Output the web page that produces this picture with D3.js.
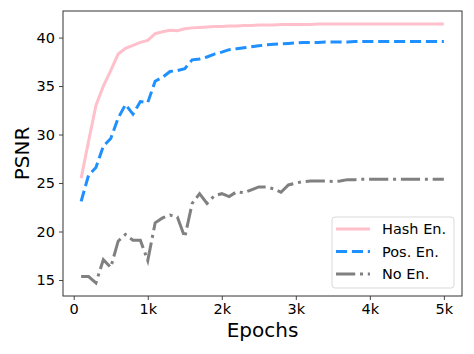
<!DOCTYPE html>
<html>
<head>
<meta charset="utf-8">
<script src="https://cdn.jsdelivr.net/npm/d3@7"></script>
<style>
  body { margin: 0; background: #fff; }
  text { font-family: "DejaVu Sans", sans-serif; fill: #000; }
</style>
</head>
<body>
<div id="chart"></div>
<script>
// epochs sampled every 100
var epochs = d3.range(100, 5001, 100);

var hashEn = [25.5, 29.3, 33.0, 35.0, 36.6, 38.3, 38.9, 39.2, 39.5, 39.7,
  40.4, 40.6, 40.75, 40.7, 40.9, 41.0, 41.05, 41.1, 41.15, 41.15,
  41.2, 41.2, 41.25, 41.25, 41.3, 41.3, 41.3, 41.35, 41.35, 41.35,
  41.35, 41.35, 41.4, 41.4, 41.4, 41.4, 41.4, 41.4, 41.4, 41.4,
  41.4, 41.4, 41.4, 41.4, 41.4, 41.4, 41.4, 41.4, 41.4, 41.4];

var posEn = [23.1, 25.8, 26.6, 28.8, 29.6, 31.7, 33.1, 32.1, 33.4, 33.3,
  35.5, 35.9, 36.5, 36.6, 36.8, 37.7, 37.8, 38.0, 38.3, 38.5,
  38.75, 38.85, 38.95, 39.05, 39.15, 39.25, 39.3, 39.35, 39.4, 39.45,
  39.5, 39.5, 39.5, 39.55, 39.55, 39.55, 39.55, 39.6, 39.6, 39.6,
  39.6, 39.6, 39.6, 39.6, 39.6, 39.6, 39.6, 39.6, 39.6, 39.6];

var noEn = [15.35, 15.35, 14.7, 17.1, 16.3, 19.0, 19.7, 19.1, 19.1, 17.0,
  20.9, 21.4, 21.7, 21.5, 19.4, 22.9, 23.9, 22.9, 23.7, 23.9,
  23.6, 24.1, 24.0, 24.3, 24.6, 24.6, 24.4, 24.05, 24.8, 25.0,
  25.15, 25.2, 25.2, 25.2, 25.15, 25.2, 25.35, 25.35, 25.4, 25.4,
  25.4, 25.4, 25.4, 25.4, 25.4, 25.4, 25.4, 25.4, 25.4, 25.4];

var seriesNames = ["Hash En.", "Pos. En.", "No En."];
var xTicks = [0, 1000, 2000, 3000, 4000, 5000];
var xTickLabels = ["0", "1k", "2k", "3k", "4k", "5k"];
var yTicks = [15, 20, 25, 30, 35, 40];

var width = 474,
	height = 354,
	margin = {top: 11, right: 12, bottom: 58, left: 63};

var svg = d3.select("#chart").append("svg")
	.attr("width", width)
	.attr("height", height);

var x = d3.scaleLinear()
	.domain([-145, 5245])
	.range([margin.left, width - margin.right]);

var y = d3.scaleLinear()
	.domain([13.35, 42.74])
	.range([height - margin.bottom, margin.top]);

var styles = [
	{color: "pink", dash: null},
	{color: "dodgerblue", dash: "11.1,4.8"},
	{color: "gray", dash: "19.2,4.8,3,4.8"}
];
var allSeries = [hashEn, posEn, noEn];

// axes
var xAxis = svg.append("g")
	.attr("transform", "translate(0," + (height - margin.bottom) + ")")
	.call(d3.axisBottom(x).tickValues(xTicks)
		.tickFormat(function(d, i) { return xTickLabels[i]; })
		.tickSize(4).tickPadding(4));

var yAxis = svg.append("g")
	.attr("transform", "translate(" + margin.left + ",0)")
	.call(d3.axisLeft(y).tickValues(yTicks).tickSize(4).tickPadding(4));

[xAxis, yAxis].forEach(function(g) {
	g.select(".domain").remove();
	g.selectAll(".tick line").attr("stroke", "#333").attr("stroke-width", 0.9);
	g.selectAll(".tick text")
		.attr("font-size", 14.5)
		.attr("font-family", "DejaVu Sans")
		.attr("fill", "#000");
});

// frame
svg.append("rect")
	.attr("x", margin.left)
	.attr("y", margin.top)
	.attr("width", width - margin.right - margin.left)
	.attr("height", height - margin.bottom - margin.top)
	.attr("fill", "none")
	.attr("stroke", "#333")
	.attr("stroke-width", 1);

// lines
var line = d3.line()
	.x(function(d, i) { return x(epochs[i]); })
	.y(function(d) { return y(d); });

allSeries.forEach(function(s, i) {
	svg.append("path")
		.datum(s)
		.attr("fill", "none")
		.attr("stroke", styles[i].color)
		.attr("stroke-width", 3)
		.attr("stroke-dasharray", styles[i].dash)
		.attr("d", line);
});

// axis titles
svg.append("text")
	.attr("x", (margin.left + width - margin.right) / 2)
	.attr("y", 337)
	.attr("text-anchor", "middle")
	.attr("font-size", 20)
	.text("Epochs");

svg.append("text")
	.attr("transform", "translate(29," + ((margin.top + height - margin.bottom) / 2) + ") rotate(-90)")
	.attr("text-anchor", "middle")
	.attr("font-size", 20)
	.text("PSNR");

// legend
var legend = svg.append("g").attr("transform", "translate(332,217)");
legend.append("rect")
	.attr("width", 122)
	.attr("height", 71)
	.attr("rx", 3)
	.attr("fill", "#fff")
	.attr("fill-opacity", 0.8)
	.attr("stroke", "#d9d9d9")
	.attr("stroke-width", 1);

seriesNames.forEach(function(name, i) {
	var ly = 12 + i * 22.5;
	legend.append("line")
		.attr("x1", 4).attr("x2", 38)
		.attr("y1", ly).attr("y2", ly)
		.attr("stroke", styles[i].color)
		.attr("stroke-width", 3)
		.attr("stroke-dasharray", styles[i].dash);
	legend.append("text")
		.attr("x", 50)
		.attr("y", ly + 5)
		.attr("font-size", 14.5)
		.text(name);
});
</script>
</body>
</html>
